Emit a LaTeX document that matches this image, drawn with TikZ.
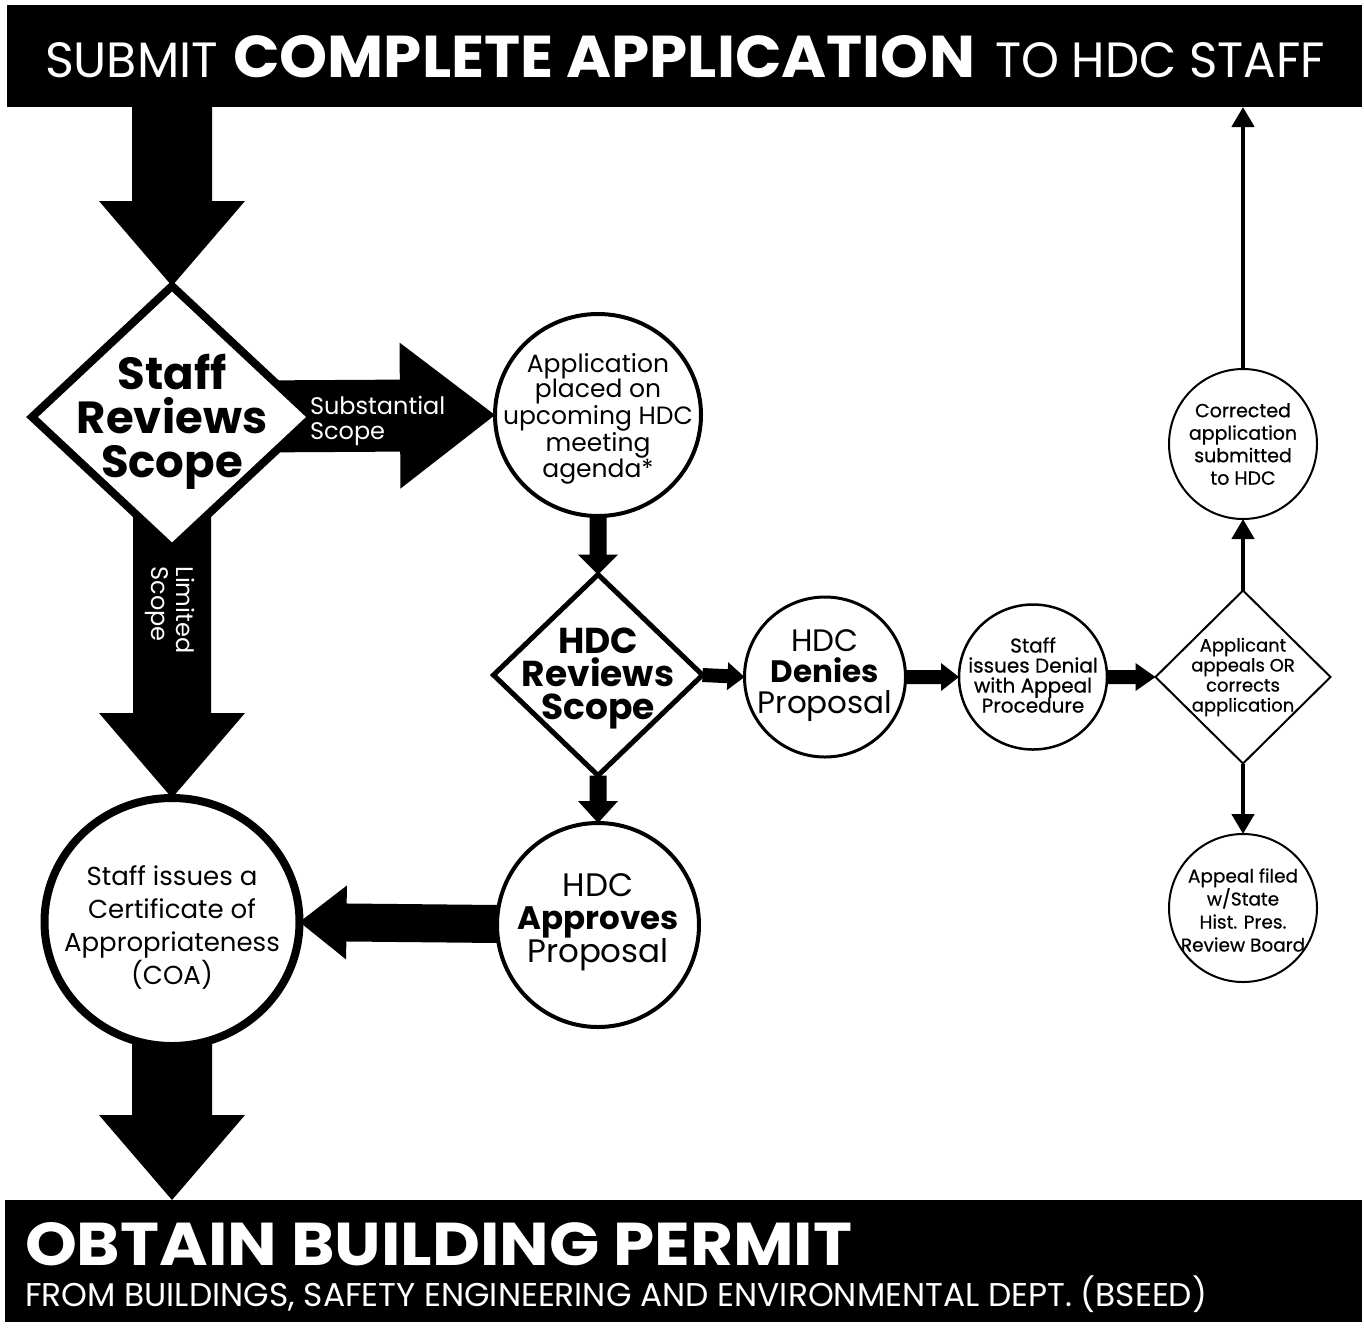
\documentclass[tikz,border=0pt]{standalone}
\usepackage{fontspec}
\setmainfont{Poppins}
\newfontfamily\medfont[FakeBold=0.6]{Poppins}
\usetikzlibrary{shapes.geometric,calc,arrows.meta}
\pgfdeclarelayer{back}
\pgfdeclarelayer{arr}
\pgfsetlayers{back,arr,main}
\newcommand\blockarrow[5]{%
  \coordinate (bah) at ($(#2)!#5!(#1)$);
  \fill[black] ($(#1)!#3!90:(#2)$) -- ($(bah)!#3!90:(#2)$) -- ($(bah)!#4!90:(#2)$) -- (#2)
    -- ($(bah)!#4!-90:(#2)$) -- ($(bah)!#3!-90:(#2)$) -- ($(#1)!#3!-90:(#2)$) -- cycle;}
\newcommand\fs[2]{\fontsize{#1}{#2}\selectfont}
\begin{document}
\begin{tikzpicture}[x=1pt,y=-1pt,
  every node/.style={inner sep=0pt,outer sep=0pt},
  bar/.style={fill=black,draw=none,rectangle},
  dia/.style={diamond,draw=black,fill=white,aspect=1},
  ell/.style={ellipse,draw=black,fill=white},
  txt/.style={align=center,text=black},
  wtxt/.style={text=white,align=left},
  thinarrow/.style={draw=black,line width=4.5pt,-{Triangle[width=22pt,length=20pt]}}]
\useasboundingbox (0,0) rectangle (1364,1331);
\begin{pgfonlayer}{back}
\fill[white] (0,0) rectangle (1364,1331);
\end{pgfonlayer}

% bars
\node[bar, minimum width=1355pt, minimum height=102pt, anchor=north west] (top) at (7,5) {};
\node[bar, minimum width=1357pt, minimum height=122pt, anchor=north west] (bot) at (5,1200) {};

% banner texts
\node[anchor=base west,text=white] (t1) at (45,77) {\resizebox{173pt}{35pt}{SUBMIT}};
\node[anchor=base west,text=white] (t2) at (233,77) {\resizebox{742pt}{42pt}{\bfseries COMPLETE APPLICATION}};
\node[anchor=base west,text=white] (t3) at (995,77) {\resizebox{330pt}{35pt}{TO HDC STAFF}};
\node[anchor=base west,text=white] (b1) at (25,1265) {\resizebox{827pt}{43pt}{\bfseries OBTAIN BUILDING PERMIT}};
\node[anchor=base west,text=white] (b2) at (25,1306) {\resizebox{1182pt}{!}{FROM BUILDINGS, SAFETY ENGINEERING AND ENVIRONMENTAL DEPT. (BSEED)}};

% shapes
\node[dia, line width=8pt, minimum width=280pt, minimum height=262pt] (srs) at (172,417) {};
\node[ell, line width=4pt, minimum width=206pt, minimum height=202pt] (app) at (598,415) {};
\node[dia, line width=5pt, minimum width=209pt, minimum height=201pt] (hdc) at (598,675) {};
\node[ell, line width=3pt, minimum width=161pt, minimum height=160pt] (den) at (825,677) {};
\node[ell, line width=2.5pt, minimum width=148pt, minimum height=145pt] (sid) at (1033,677) {};
\node[dia, line width=2pt, minimum width=175pt, minimum height=173pt] (apl) at (1243,677) {};
\node[ell, line width=2pt, minimum width=148pt, minimum height=150pt] (cor) at (1243,444) {};
\node[ell, line width=2pt, minimum width=148pt, minimum height=148pt] (apf) at (1243,908) {};
\node[ell, line width=4pt, minimum width=202pt, minimum height=204pt] (appr) at (598,925) {};
\node[ell, line width=8pt, minimum width=255pt, minimum height=248pt] (coa) at (172,922) {};

% block arrows
\begin{pgfonlayer}{arr}
\coordinate (topsrs) at (srs |- top.south);
\blockarrow{topsrs}{srs.north}{40pt}{73pt}{85pt}
\blockarrow{srs.center}{coa.north}{39pt}{73pt}{85pt}
\blockarrow{srs.center}{app.west}{36pt}{73pt}{95pt}
\coordinate (coabot) at (coa |- bot.north);
\blockarrow{coa.center}{coabot}{40pt}{73pt}{85pt}
\blockarrow{appr.center}{coa.east}{19pt}{37pt}{47pt}
\blockarrow{app.south}{hdc.north}{8.5pt}{20pt}{20pt}
\blockarrow{hdc.south}{appr.north}{8.5pt}{20pt}{22pt}
\blockarrow{hdc.east}{den.west}{7pt}{14pt}{17pt}
\blockarrow{den.east}{sid.west}{7pt}{14pt}{18pt}
\blockarrow{sid.east}{apl.west}{7pt}{14pt}{20pt}
\end{pgfonlayer}

% thin arrows
\draw[thinarrow] (apl.north) -- (cor.south);
\coordinate (cortop) at (cor |- top.south);
\draw[thinarrow] (cor.north) -- (cortop);
\draw[thinarrow] (apl.south) -- (apf.north);

% texts
\node[txt, font=\fs{45}{44}\bfseries] (srsT) at (172,422) {Staff\\Reviews\\Scope};
\node[txt, font=\fs{25}{25}] (appT) at (598,419) {Application\\placed on\\upcoming HDC\\meeting\\agenda*};
\node[txt, font=\fs{36}{33}\bfseries] (hdcT) at (598,678) {HDC\\Reviews\\Scope};
\node[txt, font=\fs{31}{31}] (denT) at (825,676) {HDC\\{\bfseries Denies}\\Proposal};
\node[txt, font=\fs{20}{20}\medfont] (sidT) at (1033,675) {Staff\\issues Denial\\with Appeal\\Procedure};
\node[txt, font=\fs{18}{20}\medfont] (aplT) at (1243,677) {Applicant\\appeals OR\\corrects\\application};
\node[txt, font=\fs{19}{22.5}\medfont] (corT) at (1243,444) {Corrected\\application\\submitted\\to HDC};
\node[txt, font=\fs{18.5}{23}\medfont] (apfT) at (1243,910) {Appeal filed\\w/State\\Hist. Pres.\\Review Board};
\node[txt, font=\fs{32.5}{33}] (apprT) at (598,922) {HDC\\{\bfseries Approves}\\Proposal};
\node[txt, font=\fs{26}{33}] (coaT) at (172,927) {Staff issues a\\Certificate of\\Appropriateness\\(COA)};

% arrow labels
\node[wtxt, anchor=west, font=\fs{24}{25}] (subT) at (310,421) {Substantial\\Scope};
\node[wtxt, rotate=-90, font=\fs{24}{25}] (limT) at (170,610) {Limited\\Scope};
\end{tikzpicture}
\end{document}
